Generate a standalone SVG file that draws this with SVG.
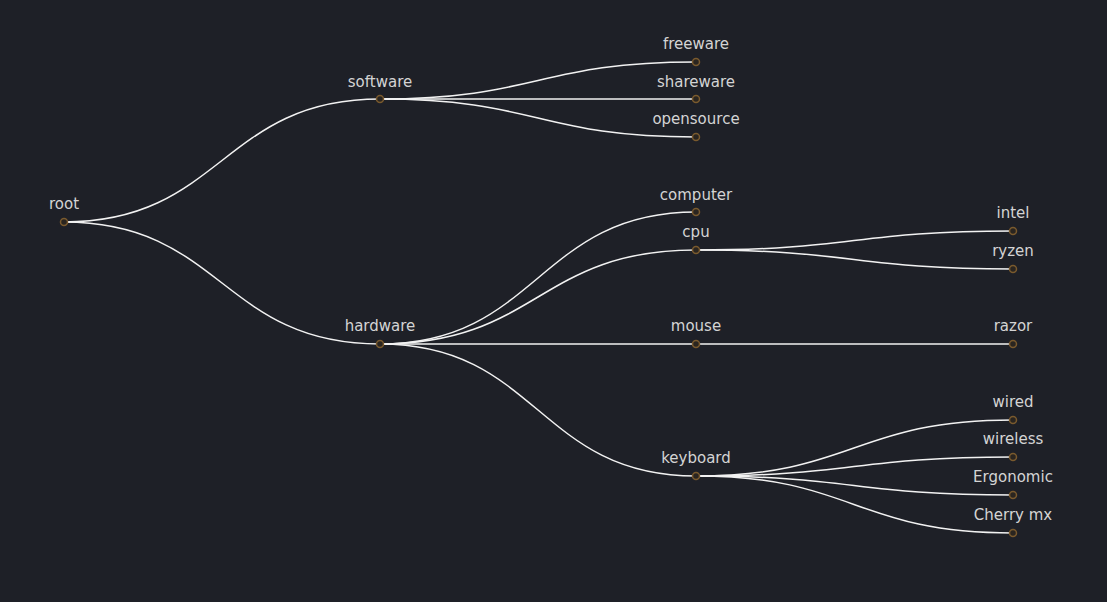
<svg xmlns="http://www.w3.org/2000/svg" width="1107" height="602" viewBox="0 0 1107 602">
<style>
.bg{fill:#1e2027}
.link{fill:none;stroke:#f2f2f2;stroke-width:1.5}
.node circle{fill:#2a2520;stroke:#7a5a2e;stroke-width:1.5}
.node text{fill:#d4d4d4;font-family:"DejaVu Sans",sans-serif;font-size:15px;text-anchor:middle}
</style>
<rect class="bg" x="0" y="0" width="1107" height="602"/>
<g id="links">
<path class="link" d="M64,222 C222,222 222,99 380,99"/>
<path class="link" d="M64,222 C222,222 222,344 380,344"/>
<path class="link" d="M380,99 C538,99 538,62 696,62"/>
<path class="link" d="M380,99 C538,99 538,99 696,99"/>
<path class="link" d="M380,99 C538,99 538,137 696,137"/>
<path class="link" d="M380,344 C538,344 538,212 696,212"/>
<path class="link" d="M380,344 C538,344 538,250 696,250"/>
<path class="link" d="M380,344 C538,344 538,344 696,344"/>
<path class="link" d="M380,344 C538,344 538,476 696,476"/>
<path class="link" d="M696,250 C854,250 854,231 1013,231"/>
<path class="link" d="M696,250 C854,250 854,269 1013,269"/>
<path class="link" d="M696,344 C854,344 854,344 1013,344"/>
<path class="link" d="M696,476 C854,476 854,420 1013,420"/>
<path class="link" d="M696,476 C854,476 854,457 1013,457"/>
<path class="link" d="M696,476 C854,476 854,495 1013,495"/>
<path class="link" d="M696,476 C854,476 854,533 1013,533"/>
</g>
<g id="root" class="node"><circle cx="64" cy="222" r="3.5"/><text x="64" y="209">root</text></g>
<g id="software" class="node"><circle cx="380" cy="99" r="3.5"/><text x="380" y="87">software</text></g>
<g id="hardware" class="node"><circle cx="380" cy="344" r="3.5"/><text x="380" y="331">hardware</text></g>
<g id="freeware" class="node"><circle cx="696" cy="62" r="3.5"/><text x="696" y="49">freeware</text></g>
<g id="shareware" class="node"><circle cx="696" cy="99" r="3.5"/><text x="696" y="87">shareware</text></g>
<g id="opensource" class="node"><circle cx="696" cy="137" r="3.5"/><text x="696" y="124">opensource</text></g>
<g id="computer" class="node"><circle cx="696" cy="212" r="3.5"/><text x="696" y="200">computer</text></g>
<g id="cpu" class="node"><circle cx="696" cy="250" r="3.5"/><text x="696" y="237">cpu</text></g>
<g id="mouse" class="node"><circle cx="696" cy="344" r="3.5"/><text x="696" y="331">mouse</text></g>
<g id="keyboard" class="node"><circle cx="696" cy="476" r="3.5"/><text x="696" y="463">keyboard</text></g>
<g id="intel" class="node"><circle cx="1013" cy="231" r="3.5"/><text x="1013" y="218">intel</text></g>
<g id="ryzen" class="node"><circle cx="1013" cy="269" r="3.5"/><text x="1013" y="256">ryzen</text></g>
<g id="razor" class="node"><circle cx="1013" cy="344" r="3.5"/><text x="1013" y="331">razor</text></g>
<g id="wired" class="node"><circle cx="1013" cy="420" r="3.5"/><text x="1013" y="407">wired</text></g>
<g id="wireless" class="node"><circle cx="1013" cy="457" r="3.5"/><text x="1013" y="444">wireless</text></g>
<g id="Ergonomic" class="node"><circle cx="1013" cy="495" r="3.5"/><text x="1013" y="482">Ergonomic</text></g>
<g id="Cherry_mx" class="node"><circle cx="1013" cy="533" r="3.5"/><text x="1013" y="520">Cherry mx</text></g>
</svg>
